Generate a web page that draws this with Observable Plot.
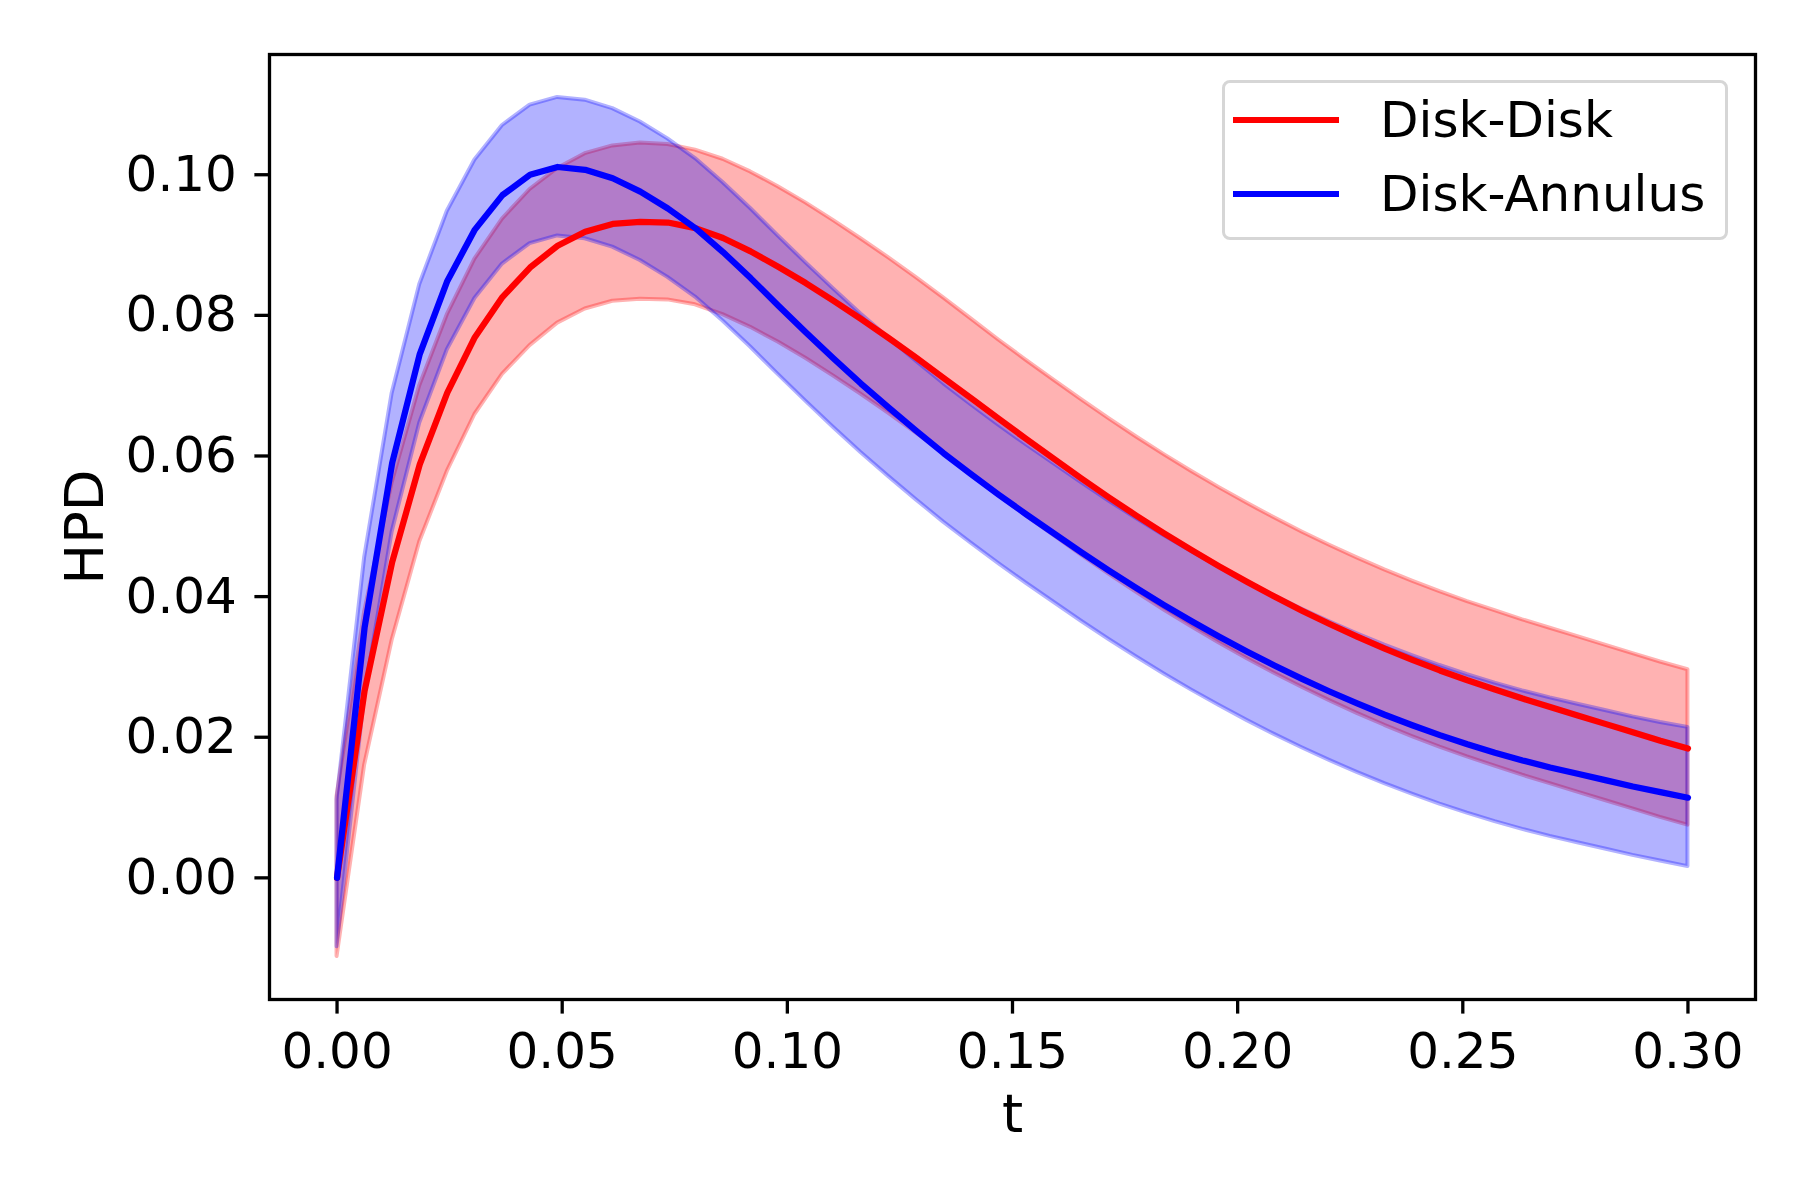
<!DOCTYPE html>
<html><head><meta charset="utf-8">
<script src="https://cdn.jsdelivr.net/npm/d3@7"></script>
<script src="https://cdn.jsdelivr.net/npm/@observablehq/plot@0.6"></script>
<style>
body{margin:0;background:#fff;}
#wrap{position:relative;width:1800px;height:1200px;font-family:"DejaVu Sans",sans-serif;}
#legend{position:absolute;left:1222px;top:80px;width:500px;height:154px;border:3px solid #d6d6d6;border-radius:8px;background:rgba(255,255,255,0.8);}
.row{position:absolute;left:8px;height:50px;display:flex;align-items:center;}
.sw{width:106px;height:6px;}
.lab{margin-left:41px;font-size:50px;color:#000;line-height:50px;white-space:nowrap;}
</style></head><body><div id="wrap"></div>
<script>
const t = [0.00000,0.00612,0.01224,0.01837,0.02449,0.03061,0.03673,0.04286,0.04898,0.05510,
0.06122,0.06735,0.07347,0.07959,0.08571,0.09184,0.09796,0.10408,0.11020,0.11633,
0.12245,0.12857,0.13469,0.14082,0.14694,0.15306,0.15918,0.16531,0.17143,0.17755,
0.18367,0.18980,0.19592,0.20204,0.20816,0.21429,0.22041,0.22653,0.23265,0.23878,
0.24490,0.25102,0.25714,0.26327,0.26939,0.27551,0.28163,0.28776,0.29388,0.30000];

const diskDisk = [0.0000,0.0266,0.0449,0.0588,0.0690,0.0769,0.0826,0.0868,0.0899,0.0919,
0.0930,0.0933,0.0932,0.0924,0.0910,0.0891,0.0869,0.0846,0.0821,0.0795,
0.0768,0.0740,0.0711,0.0682,0.0653,0.0624,0.0596,0.0568,0.0541,0.0515,
0.0490,0.0466,0.0443,0.0421,0.0400,0.0380,0.0361,0.0343,0.0326,0.0310,
0.0295,0.0281,0.0268,0.0255,0.0243,0.0231,0.0219,0.0207,0.0195,0.0184];
const diskDiskHi = [0.0116,0.0378,0.0562,0.0700,0.0801,0.0880,0.0937,0.0979,0.1009,0.1030,
0.1041,0.1045,0.1043,0.1035,0.1022,0.1004,0.0983,0.0960,0.0935,0.0909,
0.0882,0.0854,0.0825,0.0795,0.0765,0.0736,0.0708,0.0680,0.0653,0.0627,
0.0602,0.0578,0.0555,0.0533,0.0512,0.0492,0.0473,0.0455,0.0438,0.0422,
0.0407,0.0393,0.0380,0.0367,0.0355,0.0343,0.0331,0.0319,0.0307,0.0296];
const diskDiskLo = [-0.0112,0.0160,0.0338,0.0478,0.0578,0.0659,0.0716,0.0757,0.0789,0.0809,
0.0820,0.0823,0.0822,0.0815,0.0801,0.0783,0.0762,0.0739,0.0714,0.0688,
0.0661,0.0633,0.0604,0.0574,0.0544,0.0515,0.0487,0.0459,0.0432,0.0406,
0.0381,0.0357,0.0334,0.0312,0.0291,0.0271,0.0252,0.0234,0.0217,0.0201,
0.0186,0.0172,0.0159,0.0146,0.0134,0.0122,0.0110,0.0098,0.0086,0.0075];

const diskAnnulus = [0.0000,0.0356,0.0590,0.0745,0.0849,0.0922,0.0971,0.1000,0.1011,0.1007,
0.0995,0.0976,0.0952,0.0924,0.0890,0.0853,0.0814,0.0776,0.0739,0.0703,
0.0669,0.0636,0.0604,0.0574,0.0545,0.0517,0.0490,0.0463,0.0437,0.0412,
0.0388,0.0365,0.0343,0.0322,0.0302,0.0283,0.0265,0.0248,0.0232,0.0217,
0.0203,0.0190,0.0178,0.0167,0.0157,0.0148,0.0139,0.0130,0.0122,0.0114];
const diskAnnulusHi = [0.0111,0.0455,0.0689,0.0844,0.0948,0.1021,0.1070,0.1099,0.1110,0.1106,
0.1094,0.1075,0.1051,0.1023,0.0989,0.0952,0.0913,0.0875,0.0838,0.0802,
0.0768,0.0735,0.0703,0.0673,0.0644,0.0616,0.0589,0.0562,0.0536,0.0511,
0.0487,0.0464,0.0442,0.0421,0.0401,0.0382,0.0364,0.0347,0.0331,0.0316,
0.0302,0.0289,0.0277,0.0266,0.0256,0.0247,0.0238,0.0229,0.0221,0.0214];
const diskAnnulusLo = [-0.0098,0.0258,0.0492,0.0647,0.0751,0.0824,0.0873,0.0902,0.0913,0.0909,
0.0897,0.0878,0.0854,0.0826,0.0792,0.0755,0.0716,0.0678,0.0641,0.0605,
0.0571,0.0538,0.0506,0.0476,0.0447,0.0419,0.0392,0.0365,0.0339,0.0314,
0.0290,0.0267,0.0245,0.0224,0.0204,0.0185,0.0167,0.0150,0.0134,0.0119,
0.0105,0.0092,0.0080,0.0069,0.0059,0.0050,0.0041,0.0032,0.0024,0.0016];

const xTicks = [0, 0.05, 0.10, 0.15, 0.20, 0.25, 0.30];
const yTicks = [0, 0.02, 0.04, 0.06, 0.08, 0.10];
const seriesNames = ["Disk-Disk", "Disk-Annulus"];
const seriesColors = ["#ff0000", "#0000ff"];

const rows = t.map((tt, i) => ({
  t: tt,
  dd: diskDisk[i], ddHi: diskDiskHi[i], ddLo: diskDiskLo[i],
  da: diskAnnulus[i], daHi: diskAnnulusHi[i], daLo: diskAnnulusLo[i]
}));

const fmt = d3.format(".2f");
const chart = Plot.plot({
  width: 1800,
  height: 1200,
  marginLeft: 269,
  marginRight: 45,
  marginTop: 54,
  marginBottom: 201,
  style: {fontFamily: "DejaVu Sans", background: "white", color: "black"},
  x: {domain: [-0.015, 0.315]},
  y: {domain: [-0.0173, 0.1171]},
  marks: [
    Plot.areaY(rows, {x: "t", y1: "ddLo", y2: "ddHi", fill: seriesColors[0], fillOpacity: 0.3,
      stroke: seriesColors[0], strokeOpacity: 0.3, strokeWidth: 4}),
    Plot.areaY(rows, {x: "t", y1: "daLo", y2: "daHi", fill: seriesColors[1], fillOpacity: 0.3,
      stroke: seriesColors[1], strokeOpacity: 0.3, strokeWidth: 4}),
    Plot.lineY(rows, {x: "t", y: "dd", stroke: seriesColors[0], strokeWidth: 6.25}),
    Plot.lineY(rows, {x: "t", y: "da", stroke: seriesColors[1], strokeWidth: 6.25}),
    Plot.frame({stroke: "black", strokeWidth: 3.3}),
    Plot.axisX({ticks: xTicks, tickFormat: fmt, tickSize: 14.6, tickPadding: 18, strokeWidth: 3.3,
      fontSize: 50, label: "t", labelAnchor: "center", labelArrow: "none", labelOffset: 132}),
    Plot.axisY({ticks: yTicks, tickFormat: fmt, tickSize: 14.6, tickPadding: 18, strokeWidth: 3.3,
      fontSize: 50, label: "HPD", labelAnchor: "center", labelArrow: "none", labelOffset: 205})
  ]
});

const wrap = document.getElementById("wrap");
wrap.appendChild(chart);
d3.select(chart).selectAll('[aria-label="x-axis label"] text, [aria-label="y-axis label"] text')
  .attr("font-size", 54)
  .each(function() { this.textContent = this.textContent.replace(/[\u2190-\u2193]/g, "").trim(); });

const legend = document.createElement("div");
legend.id = "legend";
seriesNames.forEach((name, i) => {
  const row = document.createElement("div");
  row.className = "row";
  row.style.top = (i === 0 ? 12 : 86) + "px";
  const sw = document.createElement("div");
  sw.className = "sw";
  sw.style.background = seriesColors[i];
  const lab = document.createElement("div");
  lab.className = "lab";
  lab.textContent = name;
  row.appendChild(sw); row.appendChild(lab);
  legend.appendChild(row);
});
wrap.appendChild(legend);
</script></body></html>
